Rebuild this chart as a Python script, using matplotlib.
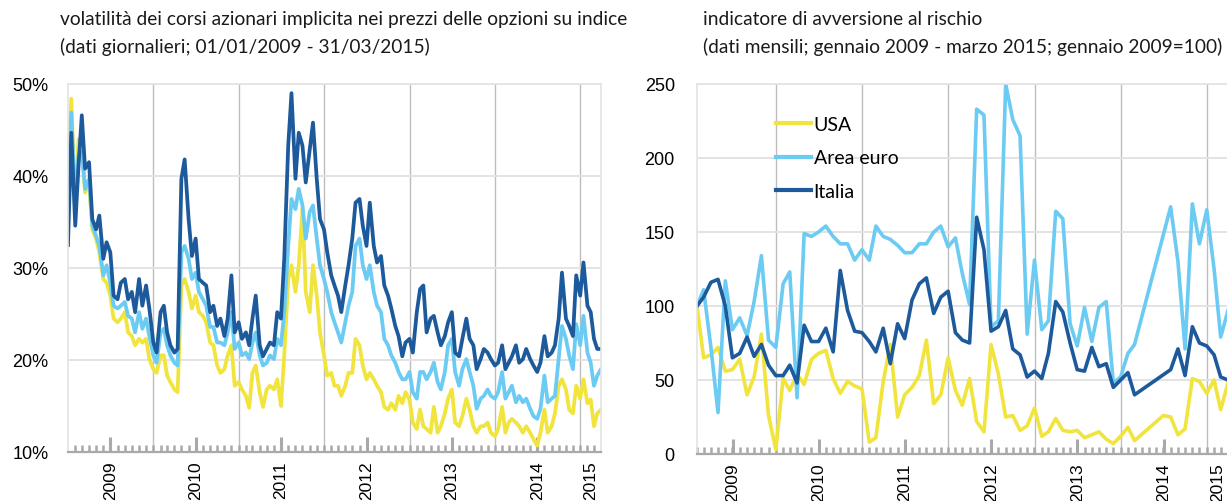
import matplotlib
matplotlib.use('Agg')
import matplotlib.pyplot as plt
import matplotlib.dates as mdates
from matplotlib.ticker import FixedLocator, FuncFormatter
from matplotlib import font_manager
import pandas as pd
import numpy as np

avail = {f.name for f in font_manager.fontManager.ttflist}
def pick(*names):
    for n in names:
        if n in avail:
            return n
    return 'DejaVu Sans'
TITLE_FONT = pick('Lato', 'Liberation Sans', 'DejaVu Sans')
TICK_FONT = pick('Liberation Sans', 'Arimo', 'DejaVu Sans')

# ---------------- data: left panel (semi-monthly readings, %) ----------------
vol_dates = list(pd.date_range('2009-01-01', '2015-03-15', freq='SMS')) + [pd.Timestamp('2015-03-31')]

vol_ita = [32.5, 44.7, 34.6, 41.1, 46.6, 40.8, 41.5, 35.3, 34.2, 35.7,
           31.0, 32.8, 31.7, 27.0, 26.6, 28.4, 28.8, 26.6, 27.4, 25.2,
           28.8, 25.9, 28.1, 25.6, 21.9, 20.8, 25.2, 25.9, 23.0, 21.6,
           20.8, 21.2, 39.7, 41.8, 35.3, 31.3, 33.2, 28.8, 28.4, 28.1,
           25.2, 25.9, 23.7, 24.5, 22.6, 24.5, 29.2, 23.0, 24.1, 22.3,
           23.0, 21.6, 24.5, 27.0, 21.6, 20.4, 21.2, 21.9, 21.6, 25.2,
           24.5, 31.0, 43.3, 49.0, 39.7, 44.7, 43.3, 39.3, 42.9, 45.8,
           39.7, 35.3, 34.2, 31.7, 29.2, 28.1, 27.0, 25.2, 28.1, 30.3,
           33.2, 37.1, 37.5, 34.6, 32.4, 37.1, 32.4, 30.6, 31.3, 28.1,
           27.0, 25.6, 23.7, 22.6, 20.4, 21.9, 22.3, 20.8, 25.2, 27.7,
           28.1, 23.0, 24.5, 24.8, 23.0, 21.6, 22.6, 24.1, 25.2, 20.8,
           20.4, 22.3, 24.5, 22.3, 21.6, 19.0, 20.1, 21.2, 20.8, 20.1,
           19.4, 19.7, 21.6, 19.0, 19.7, 20.4, 21.6, 19.7, 20.1, 21.2,
           20.1, 19.4, 18.7, 19.7, 22.6, 20.4, 20.8, 21.6, 24.5, 29.5,
           24.5, 23.7, 22.6, 29.2, 27.0, 30.6, 25.9, 25.2, 22.3, 21.2, 21.2]

vol_euro = [38.0, 46.9, 36.8, 42.2, 42.6, 38.6, 39.7, 34.6, 33.5, 32.4,
            29.2, 30.3, 28.4, 25.9, 25.6, 25.9, 26.3, 24.8, 24.5, 23.0,
            25.2, 23.4, 24.5, 22.6, 20.5, 19.7, 23.0, 23.4, 21.6, 20.5,
            19.7, 19.4, 31.7, 32.4, 31.0, 28.8, 29.5, 27.4, 26.6, 25.9,
            23.6, 23.6, 21.9, 21.9, 21.6, 23.0, 25.2, 21.2, 21.9, 20.5,
            20.8, 20.1, 21.9, 23.0, 20.5, 19.4, 19.7, 20.5, 20.1, 22.3,
            21.6, 25.2, 32.4, 37.5, 36.4, 38.6, 36.8, 33.2, 36.1, 36.8,
            33.2, 30.3, 28.8, 27.4, 25.2, 24.1, 23.0, 21.9, 24.1, 25.9,
            27.4, 32.4, 33.2, 30.3, 28.8, 30.3, 27.4, 25.9, 25.2, 22.3,
            21.6, 20.5, 19.7, 18.7, 17.9, 17.9, 18.7, 16.5, 15.8, 18.7,
            18.7, 17.9, 18.7, 19.7, 17.6, 16.8, 18.7, 21.6, 22.3, 18.7,
            17.2, 19.0, 20.1, 18.7, 17.2, 14.7, 15.8, 16.1, 16.8, 16.1,
            15.8, 16.5, 18.7, 15.8, 16.5, 17.2, 15.4, 16.1, 15.4, 15.8,
            14.7, 13.9, 13.6, 14.7, 18.3, 15.4, 15.8, 16.1, 20.1, 23.7,
            22.3, 20.5, 19.0, 23.9, 21.6, 24.8, 20.8, 19.7, 17.2, 18.3, 19.0]

vol_usa = [40.0, 48.4, 36.4, 44.0, 43.3, 38.2, 39.3, 34.2, 33.2, 31.7,
           28.8, 28.4, 27.0, 24.5, 24.1, 24.5, 25.2, 23.0, 22.6, 21.6,
           22.3, 21.9, 22.3, 20.1, 19.0, 18.6, 20.5, 20.5, 18.3, 17.6,
           16.8, 16.5, 28.1, 28.8, 27.4, 25.6, 27.0, 25.2, 24.8, 24.1,
           21.9, 21.6, 19.4, 18.6, 19.0, 20.5, 21.6, 17.2, 17.6, 16.8,
           16.1, 14.8, 18.6, 19.4, 16.5, 14.9, 16.8, 17.2, 16.8, 17.9,
           15.0, 20.5, 28.8, 30.3, 27.4, 30.3, 36.5, 27.4, 25.2, 30.3,
           27.0, 23.0, 20.5, 18.3, 18.6, 17.2, 17.2, 16.1, 17.2, 18.6,
           18.6, 22.3, 21.6, 19.4, 17.9, 18.6, 17.9, 17.2, 16.5, 14.9,
           14.6, 15.3, 14.6, 16.1, 15.3, 16.5, 15.7, 13.2, 12.5, 14.6,
           12.8, 12.5, 12.1, 14.9, 12.1, 12.8, 14.2, 15.8, 16.8, 13.2,
           12.8, 13.9, 15.8, 14.6, 12.8, 12.1, 12.8, 12.8, 13.2, 12.1,
           11.7, 12.5, 14.9, 12.1, 13.2, 13.6, 13.2, 12.8, 12.1, 12.8,
           12.1, 11.4, 10.7, 12.1, 14.6, 12.1, 12.8, 14.2, 17.2, 17.9,
           16.8, 14.6, 14.2, 17.2, 15.8, 17.9, 15.3, 15.7, 12.8, 14.2, 14.6]

# ---------------- data: right panel (monthly, gennaio 2009 = 100) ----------------
try:
    risk_dates = pd.date_range('2009-01-31', periods=75, freq='ME')
except Exception:
    risk_dates = pd.date_range('2009-01-31', periods=75, freq='M')

risk_usa = [100, 65, 67, 72, 56, 57, 64, 40, 52, 81,
            26, 3, 51, 43, 54, 47, 64, 68, 70, 51,
            41, 49, 46, 44, 8, 11, 49, 74, 25, 40,
            45, 53, 77, 34, 40, 65, 43, 33, 51, 22,
            15, 74, 54, 25, 26, 16, 19, 31, 12, 15,
            24, 16, 15, 16, 11, 13, 15, 10, 7, 12,
            18, 9, None, None, None, 26, 25, 13, 17, 51,
            49, 41, 50, 30, 48]

risk_euro = [100, 111, 72, 28, 117, 84, 92, 80, 103, 134,
             77, 72, 115, 123, 38, 149, 147, 150, 154, 147,
             142, 142, 131, 138, 131, 154, 147, 145, 141, 136,
             136, 142, 142, 150, 154, 140, 146, 122, 101, 233,
             229, 86, 90, 250, 226, 215, 81, 131, 84, 90,
             164, 159, 88, 73, 99, 76, 99, 103, 48, 52,
             68, 74, None, None, None, None, 167, 130, 71, 169,
             142, 165, 125, 79, 97]

risk_ita = [100, 106, 116, 118, 100, 65, 68, 79, 66, 74,
            60, 53, 53, 60, 48, 87, 76, 76, 85, 69,
            124, 97, 83, 82, 76, 69, 85, 61, 88, 78,
            104, 115, 119, 95, 106, 110, 82, 77, 75, 160,
            138, 83, 86, 97, 71, 67, 52, 56, 51, 68,
            103, 96, 75, 57, 56, 72, 59, 61, 45, 50,
            55, 40, None, None, None, None, 57, 71, 53, 86,
            75, 73, 67, 52, 50]

series_names = ['USA', 'Area euro', 'Italia']
year_labels = ['2009', '2010', '2011', '2012', '2013', '2014', '2015']

title_left = ['volatilità dei corsi azionari implicita nei prezzi delle opzioni su indice',
              '(dati giornalieri; 01/01/2009 - 31/03/2015)']
title_right = ['indicatore di avversione al rischio',
               '(dati mensili; gennaio 2009 - marzo 2015; gennaio 2009=100)']

# ---------------- style ----------------
YEL = '#F1E43C'
LBL = '#6BCBF3'
DBL = '#1D5A9C'
COLORS = [YEL, LBL, DBL]
GRID_H = '#e3e3e3'
GRID_V = '#bdbdbd'
AXIS_C = '#a9a9a9'

W, H = 1227, 502
fig = plt.figure(figsize=(W / 100, H / 100), dpi=100)


def year_ticks():
    t = [pd.Timestamp(f'{y}-07-01') for y in year_labels[:-1]]
    t.append(pd.Timestamp(f'{year_labels[-1]}-02-14'))
    return mdates.date2num(t)


def style_axis(ax, xmin, xmax, minor_positions):
    ax.set_xlim(xmin, xmax)
    ax.xaxis.set_major_locator(FixedLocator(year_ticks()))
    ax.xaxis.set_major_formatter(FuncFormatter(lambda v, p: year_labels[p] if p is not None and p < len(year_labels) else ''))
    ax.xaxis.set_minor_locator(FixedLocator(minor_positions))
    ax.tick_params(axis='x', which='major', direction='in', length=11, width=2.2,
                   color=AXIS_C, pad=6, labelrotation=90, labelsize=12.5)
    ax.tick_params(axis='x', which='minor', direction='in', length=5, width=1.8, color=AXIS_C)
    ax.tick_params(axis='y', which='both', length=0, pad=14, labelsize=13)
    for lab in ax.get_xticklabels() + ax.get_yticklabels():
        lab.set_fontfamily(TICK_FONT)
    ax.yaxis.grid(True, color=GRID_H, lw=1.4)
    ax.set_axisbelow(True)
    for y in year_labels[1:]:
        ax.axvline(pd.Timestamp(f'{y}-01-01'), color=GRID_V, lw=1.0, zorder=0.5)
    ax.spines['bottom'].set_color(AXIS_C)
    ax.spines['bottom'].set_linewidth(1.6)
    for s in ['left', 'top', 'right']:
        ax.spines[s].set_color(GRID_H)
        ax.spines[s].set_linewidth(1.2)
    ax.xaxis.get_major_ticks()[-1].tick1line.set_visible(False)


# ---------------- left panel ----------------
ax1 = fig.add_axes([68 / W, 1 - 453 / H, 533 / W, 368 / H])
for vals, col in zip([vol_usa, vol_euro, vol_ita], COLORS):
    ax1.plot(vol_dates, vals, color=col, lw=2.7, solid_joinstyle='round', zorder=2)
ax1.set_ylim(10, 50)
ax1.set_yticks([10, 20, 30, 40, 50])
ax1.yaxis.set_major_formatter(FuncFormatter(lambda v, p: f'{v:.0f}%'))
style_axis(ax1, pd.Timestamp('2009-01-01'), pd.Timestamp('2015-03-31'),
           mdates.date2num(pd.date_range('2009-02-01', '2015-03-01', freq='MS')))

# ---------------- right panel ----------------
ax2 = fig.add_axes([697 / W, 1 - 455 / H, 531 / W, 370 / H])
for vals, col, name in zip([risk_usa, risk_euro, risk_ita], COLORS, series_names):
    s = pd.Series(vals, index=risk_dates, dtype=float).dropna()
    ax2.plot(s.index, s.values, color=col, lw=2.6, solid_joinstyle='round', label=name, zorder=2)
ax2.set_ylim(0, 250)
ax2.set_yticks([0, 50, 100, 150, 200, 250])
style_axis(ax2, risk_dates[0], risk_dates[-1], mdates.date2num(risk_dates))
ax2.spines['right'].set_visible(False)
for lab in ax2.get_yticklabels():
    lab.set_fontfamily(TICK_FONT)
ax2.tick_params(axis='y', pad=16)
leg = ax2.legend(loc='upper left', bbox_to_anchor=(0.13, 0.94), frameon=False,
                 handlelength=1.8, handletextpad=0.15, labelspacing=0.85,
                 borderpad=0, prop={'family': TITLE_FONT, 'size': 14})
for h in leg.get_lines():
    h.set_linewidth(3)

# ---------------- titles ----------------
for x0, lines in [(60 / W, title_left), (703 / W, title_right)]:
    fig.text(x0, 1 - 11 / H, lines[0], ha='left', va='top', fontsize=13.8, family=TITLE_FONT, color='#1a1a1a')
    fig.text(x0, 1 - 38 / H, lines[1], ha='left', va='top', fontsize=13.8, family=TITLE_FONT, color='#1a1a1a')

fig.savefig('out.png', dpi=100)
